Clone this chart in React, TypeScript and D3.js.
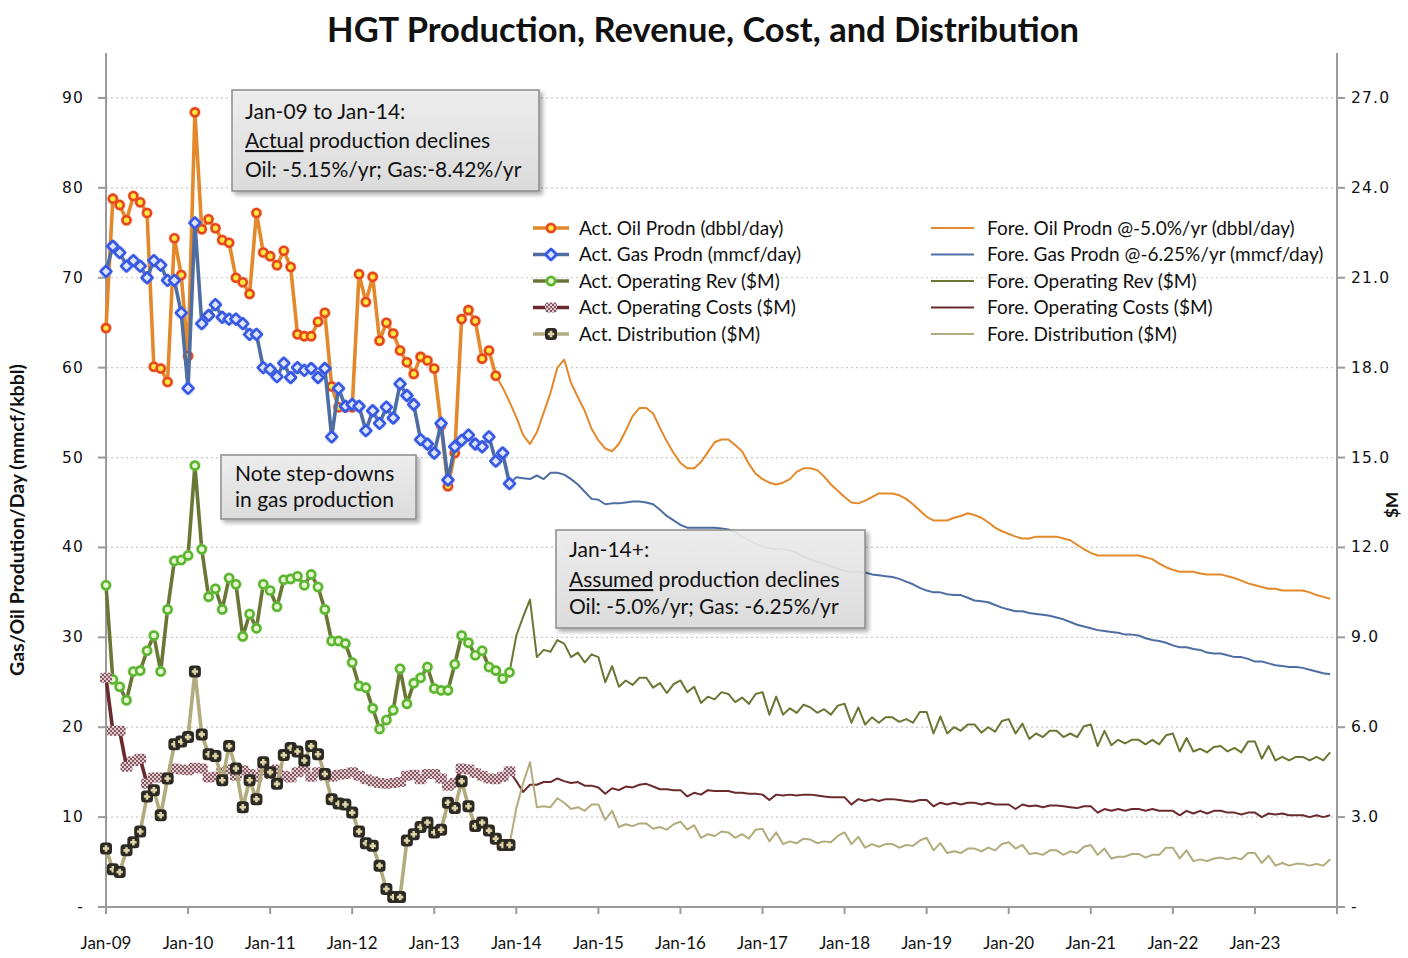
import * as d3 from "d3";

// month index 0 = Jan-09, 180 = Jan-24
const yearLabels = ["Jan-09", "Jan-10", "Jan-11", "Jan-12", "Jan-13", "Jan-14", "Jan-15", "Jan-16", "Jan-17", "Jan-18", "Jan-19", "Jan-20", "Jan-21", "Jan-22", "Jan-23"];
const leftTicks = [0, 10, 20, 30, 40, 50, 60, 70, 80, 90];
const rightTicks = [0, 3, 6, 9, 12, 15, 18, 21, 24, 27];

// actual, monthly from Jan-09
const actOil = [
  64.4, 78.8, 78.1, 76.4, 79.1, 78.4, 77.2, 60.1, 59.9, 58.4,
  74.4, 70.3, 61.3, 88.4, 75.4, 76.5, 75.5, 74.2, 73.9, 70.0,
  69.5, 68.2, 77.2, 72.8, 72.4, 71.4, 73.0, 71.2, 63.7, 63.5,
  63.5, 65.1, 66.1, 57.9, 55.6, 55.6, 55.6, 70.4, 67.3, 70.1,
  63.0, 65.0, 63.8, 61.9, 60.6, 59.3, 61.2, 60.8, 59.9, 53.6,
  46.8, 50.5, 65.4, 66.4, 65.2, 61.0, 61.9, 59.1,
];
const actGas = [
  70.7, 73.5, 72.8, 71.3, 71.9, 71.3, 70.0, 71.9, 71.4, 69.7,
  69.7, 66.1, 57.7, 76.1, 64.9, 65.8, 67.0, 65.6, 65.4, 65.4,
  64.9, 63.7, 63.7, 60.0, 59.8, 59.0, 60.5, 58.9, 60.0, 59.7,
  59.9, 58.9, 59.9, 52.3, 57.7, 55.7, 55.9, 55.7, 53.0, 55.2,
  53.8, 55.6, 54.4, 58.2, 56.9, 55.9, 52.0, 51.5, 50.5, 53.8,
  47.5, 51.2, 51.9, 52.5, 51.5, 51.2, 52.3, 49.6, 50.5, 47.1,
];
// $M
const actRev = [
  10.74, 7.59, 7.35, 6.9, 7.86, 7.89, 8.55, 9.06, 7.86, 9.93,
  11.55, 11.58, 11.73, 14.73, 11.94, 10.35, 10.62, 9.93, 10.98, 10.77,
  9.03, 9.78, 9.3, 10.77, 10.56, 10.02, 10.92, 10.95, 11.04, 10.74,
  11.1, 10.68, 9.93, 8.88, 8.88, 8.79, 8.16, 7.38, 7.32, 6.63,
  5.94, 6.24, 6.57, 7.95, 6.78, 7.47, 7.65, 8.01, 7.29, 7.23,
  7.23, 8.1, 9.06, 8.82, 8.4, 8.55, 8.01, 7.89, 7.62, 7.83,
];
const actCost = [
  7.65, 5.88, 5.88, 4.68, 4.86, 4.95, 4.11, 4.32, 4.32, 4.29,
  4.62, 4.59, 4.56, 4.65, 4.62, 4.32, 4.35, 4.5, 4.59, 4.38,
  4.56, 4.44, 4.35, 4.56, 4.44, 4.59, 4.38, 4.32, 4.5, 4.62,
  4.35, 4.5, 4.38, 4.35, 4.41, 4.44, 4.5, 4.38, 4.26, 4.2,
  4.14, 4.11, 4.14, 4.17, 4.38, 4.41, 4.26, 4.44, 4.44, 4.29,
  4.05, 4.14, 4.62, 4.59, 4.47, 4.38, 4.29, 4.26, 4.35, 4.53,
];
const actDist = [
  1.95, 1.26, 1.17, 1.89, 2.16, 2.52, 3.69, 3.9, 3.06, 4.29,
  5.43, 5.52, 5.67, 7.86, 5.76, 5.1, 5.04, 4.23, 5.37, 4.62,
  3.33, 4.23, 3.6, 4.83, 4.5, 4.11, 5.07, 5.31, 5.19, 4.89,
  5.37, 5.1, 4.44, 3.6, 3.45, 3.42, 3.15, 2.52, 2.13, 2.04,
  1.38, 0.6, 0.33, 0.33, 2.22, 2.43, 2.67, 2.82, 2.49, 2.58,
  3.48, 3.3, 4.2, 3.36, 2.7, 2.82, 2.55, 2.28, 2.07, 2.07,
];

// forecast, oil from Oct-13, others from Dec-13
const foreOilStart = 57;
const foreOil = [
  59.1, 57.8, 56.2,
  54.5, 52.5, 51.5, 52.8, 55.0, 57.2, 60.0, 60.9, 58.3, 56.7,
  55.2, 53.2, 51.9, 51.0, 50.7, 51.5, 53.0, 54.6, 55.5, 55.5,
  54.9, 53.3, 51.8, 50.5, 49.4, 48.8, 48.8, 49.5, 50.6, 51.7,
  52.0, 52.0, 51.4, 50.7, 49.3, 48.2, 47.6, 47.2, 47.0, 47.2,
  47.6, 48.4, 48.8, 48.8, 48.6, 47.9, 47.0, 46.3, 45.6, 45.0,
  44.9, 45.2, 45.6, 46.0, 46.0, 46.0, 45.8, 45.4, 44.8, 44.1,
  43.4, 43.0, 43.0, 43.0, 43.3, 43.5, 43.8, 43.6, 43.3, 42.8,
  42.2, 41.8, 41.5, 41.2, 41.0, 41.0, 41.2, 41.2, 41.2, 41.2,
  41.0, 40.8, 40.3, 39.8, 39.4, 39.1, 39.1, 39.1, 39.1, 39.1,
  39.1, 39.1, 38.9, 38.7, 38.2, 37.8, 37.5, 37.3, 37.3, 37.3,
  37.1, 37.0, 37.0, 37.0, 36.8, 36.6, 36.3, 36.0, 35.8, 35.6,
  35.4, 35.4, 35.2, 35.2, 35.2, 35.2, 35.0, 34.7, 34.5, 34.3,
];
const foreStart = 59;
const foreGas = [
  47.1,
  47.8, 47.7, 47.6, 48.0, 47.6, 48.3, 48.3, 48.1, 47.6, 47.0,
  46.2, 45.4, 45.3, 44.8, 44.9, 44.9, 45.0, 45.1, 45.1, 45.0,
  44.8, 44.2, 43.5, 43.0, 42.5, 42.2, 42.2, 42.2, 42.2, 42.2,
  42.1, 42.0, 41.7, 41.2, 40.8, 40.4, 40.1, 39.9, 39.8, 39.8,
  39.7, 39.4, 39.0, 38.7, 38.4, 38.2, 37.9, 37.6, 37.4, 37.3,
  37.3, 37.2, 37.0, 36.9, 36.8, 36.7, 36.5, 36.2, 35.9, 35.5,
  35.2, 35.0, 35.0, 34.8, 34.7, 34.7, 34.4, 34.1, 34.0, 33.9,
  33.6, 33.3, 33.1, 32.9, 32.9, 32.7, 32.6, 32.5, 32.4, 32.2,
  32.0, 31.7, 31.4, 31.2, 31.0, 30.8, 30.7, 30.6, 30.5, 30.3,
  30.3, 30.2, 29.9, 29.7, 29.6, 29.4, 29.1, 28.9, 28.9, 28.7,
  28.6, 28.3, 28.2, 28.2, 28.0, 27.8, 27.8, 27.6, 27.3, 27.3,
  27.1, 26.9, 26.8, 26.7, 26.7, 26.6, 26.4, 26.2, 26.0, 25.9,
];
const foreRev = [
  7.83,
  9.06, 9.69, 10.26, 8.34, 8.58, 8.52, 8.91, 8.79, 8.34, 8.49,
  8.16, 8.43, 8.34, 7.5, 8.04, 7.35, 7.56, 7.41, 7.65, 7.65,
  7.32, 7.47, 7.14, 7.44, 7.56, 7.17, 7.35, 6.81, 7.02, 6.93,
  7.17, 7.11, 6.84, 6.99, 6.78, 7.11, 7.17, 6.42, 7.02, 6.42,
  6.63, 6.48, 6.75, 6.66, 6.48, 6.6, 6.42, 6.72, 6.78, 6.15,
  6.66, 6.09, 6.33, 6.15, 6.33, 6.33, 6.18, 6.27, 6.15, 6.51,
  6.51, 5.79, 6.36, 5.79, 6.0, 5.88, 6.09, 6.09, 5.82, 6.0,
  5.85, 6.21, 6.27, 5.79, 6.12, 5.61, 5.79, 5.67, 5.88, 5.88,
  5.67, 5.79, 5.67, 6.03, 6.09, 5.37, 5.88, 5.4, 5.58, 5.46,
  5.58, 5.58, 5.43, 5.58, 5.43, 5.73, 5.79, 5.19, 5.64, 5.19,
  5.28, 5.16, 5.34, 5.37, 5.19, 5.31, 5.16, 5.52, 5.52, 4.95,
  5.37, 4.89, 5.01, 4.89, 5.01, 5.01, 4.89, 5.01, 4.89, 5.16,
];
const foreCost = [
  4.53,
  4.2, 3.84, 4.08, 4.08, 4.17, 4.17, 4.29, 4.2, 4.14, 4.17,
  4.05, 4.05, 3.99, 3.78, 3.96, 3.9, 4.02, 3.99, 4.08, 4.11,
  4.02, 3.93, 3.93, 3.9, 3.9, 3.69, 3.81, 3.75, 3.9, 3.87,
  3.87, 3.87, 3.81, 3.81, 3.78, 3.78, 3.75, 3.57, 3.75, 3.72,
  3.75, 3.72, 3.75, 3.75, 3.72, 3.69, 3.66, 3.66, 3.66, 3.42,
  3.6, 3.54, 3.6, 3.54, 3.6, 3.6, 3.57, 3.54, 3.51, 3.57,
  3.57, 3.36, 3.48, 3.42, 3.48, 3.42, 3.48, 3.48, 3.42, 3.48,
  3.42, 3.42, 3.42, 3.27, 3.42, 3.36, 3.39, 3.33, 3.39, 3.39,
  3.36, 3.33, 3.3, 3.36, 3.36, 3.15, 3.27, 3.21, 3.27, 3.21,
  3.27, 3.27, 3.21, 3.27, 3.21, 3.21, 3.21, 3.06, 3.21, 3.12,
  3.21, 3.12, 3.21, 3.21, 3.15, 3.15, 3.09, 3.15, 3.15, 3.0,
  3.12, 3.09, 3.12, 3.06, 3.06, 3.06, 3.0, 3.06, 3.0, 3.06,
];
const foreDist = [
  2.07,
  3.3, 4.14, 4.83, 3.33, 3.36, 3.33, 3.63, 3.48, 3.27, 3.33,
  3.21, 3.42, 3.42, 2.91, 3.21, 2.67, 2.76, 2.7, 2.79, 2.79,
  2.61, 2.67, 2.58, 2.76, 2.85, 2.58, 2.73, 2.31, 2.43, 2.37,
  2.52, 2.49, 2.31, 2.43, 2.28, 2.58, 2.61, 2.19, 2.49, 2.1,
  2.19, 2.13, 2.28, 2.25, 2.13, 2.19, 2.16, 2.37, 2.49, 2.1,
  2.34, 1.98, 2.1, 2.01, 2.1, 2.1, 1.98, 2.07, 2.04, 2.22,
  2.31, 1.89, 2.13, 1.8, 1.86, 1.8, 1.95, 1.95, 1.86, 1.98,
  1.89, 2.1, 2.16, 1.95, 2.07, 1.77, 1.8, 1.74, 1.89, 1.89,
  1.74, 1.86, 1.8, 2.01, 2.07, 1.74, 1.95, 1.62, 1.68, 1.68,
  1.77, 1.77, 1.65, 1.74, 1.74, 1.98, 1.98, 1.62, 1.89, 1.53,
  1.59, 1.53, 1.62, 1.65, 1.59, 1.65, 1.59, 1.8, 1.8, 1.47,
  1.71, 1.38, 1.47, 1.38, 1.44, 1.44, 1.38, 1.44, 1.38, 1.59,
];

const actLegend = ["Act. Oil Prodn (dbbl/day)", "Act. Gas Prodn (mmcf/day)", "Act. Operating Rev ($M)", "Act. Operating Costs ($M)", "Act. Distribution ($M)"];
const foreLegend = ["Fore. Oil Prodn @-5.0%/yr (dbbl/day)", "Fore. Gas Prodn @-6.25%/yr (mmcf/day)", "Fore. Operating Rev ($M)", "Fore. Operating Costs ($M)", "Fore. Distribution ($M)"];

const C = {
  oil: "#E3892B",
  gas: "#4E6EA3",
  rev: "#687834",
  cost: "#6B2A2C",
  dist: "#B2AB7D",
  axis: "#9a9a9a",
};

const x = d3.scaleLinear().domain([0, 180]).range([106, 1337]);
const yL = d3.scaleLinear().domain([0, 95]).range([907, 53]);
const yR = d3.scaleLinear().domain([0, 28.5]).range([907, 53]);

const pathFor = (vals: number[], start: number, y: d3.ScaleLinear<number, number>) =>
  d3.line<number>().x((_, i) => x(start + i)).y((d) => y(d))(vals) || "";

type MarkerKind = "oil" | "gas" | "rev" | "cost" | "dist";

const Marker = ({ kind, cx, cy }: { kind: MarkerKind; cx: number; cy: number }) => {
  if (kind === "oil")
    return (
      <g>
        <circle cx={cx} cy={cy} r={6} fill="#F08A5A" opacity={0.35} />
        <circle cx={cx} cy={cy} r={4} fill="#FFE640" stroke="#E5461C" strokeWidth={2.6} />
      </g>
    );
  if (kind === "gas")
    return (
      <g>
        <circle cx={cx} cy={cy} r={6.5} fill="#7D96F0" opacity={0.35} />
        <path d={`M${cx},${cy - 5.5}L${cx + 5.5},${cy}L${cx},${cy + 5.5}L${cx - 5.5},${cy}Z`} fill="#DCE4FF" stroke="#3657E3" strokeWidth={2.6} strokeLinejoin="round" />
      </g>
    );
  if (kind === "rev")
    return (
      <g>
        <circle cx={cx} cy={cy} r={6} fill="#9ED77A" opacity={0.4} />
        <circle cx={cx} cy={cy} r={4} fill="#E6F7CF" stroke="#5BB430" strokeWidth={2.6} />
      </g>
    );
  if (kind === "cost")
    return <rect x={cx - 6} y={cy - 5} width={12} height={10} rx={2} fill="url(#checker)" />;
  return (
    <g>
      <rect x={cx - 6} y={cy - 6} width={12} height={12} rx={3.5} fill="#2C2A22" />
      <path d={`M${cx - 3.2},${cy}H${cx + 3.2}M${cx},${cy - 3.2}V${cy + 3.2}`} stroke="#DCD4A6" strokeWidth={2.6} />
    </g>
  );
};

const actualSeries: { kind: MarkerKind; vals: number[]; y: d3.ScaleLinear<number, number>; color: string }[] = [
  { kind: "oil", vals: actOil, y: yL, color: C.oil },
  { kind: "gas", vals: actGas, y: yL, color: C.gas },
  { kind: "rev", vals: actRev, y: yR, color: C.rev },
  { kind: "cost", vals: actCost, y: yR, color: C.cost },
  { kind: "dist", vals: actDist, y: yR, color: C.dist },
];
const foreSeries = [
  { vals: foreOil, start: foreOilStart, y: yL, color: C.oil },
  { vals: foreGas, start: foreStart, y: yL, color: C.gas },
  { vals: foreRev, start: foreStart, y: yR, color: C.rev },
  { vals: foreCost, start: foreStart, y: yR, color: C.cost },
  { vals: foreDist, start: foreStart, y: yR, color: C.dist },
];

const boxFont = "Lato, 'Open Sans', sans-serif";

const Box = ({ bx, by, bw, bh, children }: { bx: number; by: number; bw: number; bh: number; children: any }) => (
  <g>
    <rect x={bx} y={by} width={bw} height={bh} fill="url(#boxGrad)" fillOpacity={0.9} stroke="#8c8c8c" strokeWidth={1.5} filter="url(#shadow)" />
    <g fontFamily={boxFont} fontSize={21} fill="#111">{children}</g>
  </g>
);

const App = () => {
  const tickFont = "'DejaVu Sans', Verdana, sans-serif";
  const xLabelFont = "Lato, sans-serif";
  return (
    <svg width={1408} height={958} style={{ position: "absolute", left: 0, top: 0, background: "#fff" }}>
      <defs>
        <pattern id="checker" width={4} height={4} patternUnits="userSpaceOnUse">
          <rect width={4} height={4} fill="#E9C9CF" />
          <rect width={2} height={2} fill="#7E5A62" />
          <rect x={2} y={2} width={2} height={2} fill="#7E5A62" />
        </pattern>
        <linearGradient id="boxGrad" x1="0" y1="0" x2="0" y2="1">
          <stop offset="0" stopColor="#efefef" />
          <stop offset="1" stopColor="#dcdcdc" />
        </linearGradient>
        <filter id="shadow" x="-10%" y="-10%" width="130%" height="140%">
          <feDropShadow dx={3} dy={3} stdDeviation={2} floodColor="#000" floodOpacity={0.35} />
        </filter>
      </defs>

      {/* title */}
      <text x={703} y={42} textAnchor="middle" fontFamily="Lato, sans-serif" fontWeight="bold" fontSize={34.5} fill="#111">
        HGT Production, Revenue, Cost, and Distribution
      </text>

      {/* gridlines */}
      {leftTicks.filter((t) => t > 0).map((t) => (
        <line key={t} x1={x(0)} x2={x(180)} y1={yL(t)} y2={yL(t)} stroke="#c8c8c8" strokeWidth={1.2} strokeDasharray="2,3" />
      ))}

      {/* axes */}
      <line x1={x(0)} x2={x(0)} y1={yL(95)} y2={yL(0)} stroke={C.axis} strokeWidth={2} />
      <line x1={x(180)} x2={x(180)} y1={yL(95)} y2={yL(0)} stroke={C.axis} strokeWidth={2} />
      <line x1={x(0) - 8} x2={x(180) + 8} y1={yL(0)} y2={yL(0)} stroke={C.axis} strokeWidth={2} />
      {leftTicks.map((t) => (
        <g key={t}>
          <line x1={x(0) - 8} x2={x(0)} y1={yL(t)} y2={yL(t)} stroke={C.axis} strokeWidth={2} />
          <text x={84} y={yL(t) + 5} textAnchor="end" fontFamily={tickFont} fontSize={15.5} letterSpacing={1.2} fill="#111">
            {t === 0 ? "-" : t}
          </text>
        </g>
      ))}
      {rightTicks.map((t) => (
        <g key={t}>
          <line x1={x(180)} x2={x(180) + 8} y1={yR(t)} y2={yR(t)} stroke={C.axis} strokeWidth={2} />
          <text x={1351} y={yR(t) + 5} fontFamily={tickFont} fontSize={15.5} letterSpacing={1.2} fill="#111">
            {t === 0 ? "-" : t.toFixed(1)}
          </text>
        </g>
      ))}
      {yearLabels.map((lab, i) => (
        <g key={lab}>
          <line x1={x(i * 12)} x2={x(i * 12)} y1={yL(0)} y2={yL(0) + 7} stroke={C.axis} strokeWidth={2} />
          <text x={x(i * 12)} y={949} textAnchor="middle" fontFamily={xLabelFont} fontSize={17} fill="#111">
            {lab}
          </text>
        </g>
      ))}
      <line x1={x(180)} x2={x(180)} y1={yL(0)} y2={yL(0) + 7} stroke={C.axis} strokeWidth={2} />

      {/* axis titles */}
      <text transform="translate(24,520) rotate(-90)" textAnchor="middle" fontFamily="Lato, sans-serif" fontWeight="bold" fontSize={19.5} fill="#111">
        Gas/Oil Prodution/Day (mmcf/kbbl)
      </text>
      <text transform="translate(1398,505) rotate(-90)" textAnchor="middle" fontFamily="Lato, sans-serif" fontWeight="bold" fontSize={17} fill="#111">
        $M
      </text>

      {/* forecast lines */}
      {foreSeries.map((s, k) => (
        <path key={k} d={pathFor(s.vals, s.start, s.y)} fill="none" stroke={s.color} strokeWidth={2} strokeLinejoin="round" />
      ))}

      {/* actual lines + markers */}
      {actualSeries.map((s) => (
        <g key={s.kind}>
          <path d={pathFor(s.vals, 0, s.y)} fill="none" stroke={s.color} strokeWidth={3.6} strokeLinejoin="round" />
          {s.vals.map((v, i) => (
            <Marker key={i} kind={s.kind} cx={x(i)} cy={s.y(v)} />
          ))}
        </g>
      ))}

      {/* legend */}
      {actualSeries.map((s, i) => {
        const ly = 228 + i * 26.5;
        const f = foreSeries[i];
        return (
          <g key={s.kind}>
            <line x1={533} x2={569} y1={ly} y2={ly} stroke={s.color} strokeWidth={3.6} />
            <Marker kind={s.kind} cx={551} cy={ly} />
            <text x={579} y={ly + 6.5} fontFamily={boxFont} fontSize={19} fill="#111">{actLegend[i]}</text>
            <line x1={931} x2={974} y1={ly} y2={ly} stroke={f.color} strokeWidth={2} />
            <text x={987} y={ly + 6.5} fontFamily={boxFont} fontSize={19} fill="#111">{foreLegend[i]}</text>
          </g>
        );
      })}

      {/* annotations */}
      <Box bx={232} by={90} bw={307} bh={101}>
        <text x={245} y={119}>Jan-09 to Jan-14:</text>
        <text x={245} y={148}><tspan textDecoration="underline">Actual</tspan> production declines</text>
        <text x={245} y={177}>Oil: -5.15%/yr; Gas:-8.42%/yr</text>
      </Box>
      <Box bx={221} by={455} bw={195} bh={64}>
        <text x={235} y={481}>Note step-downs</text>
        <text x={235} y={507}>in gas production</text>
      </Box>
      <Box bx={556} by={530} bw={309} bh={98}>
        <text x={569} y={557}>Jan-14+:</text>
        <text x={569} y={587}><tspan textDecoration="underline">Assumed</tspan> production declines</text>
        <text x={569} y={614}>Oil: -5.0%/yr; Gas: -6.25%/yr</text>
      </Box>
    </svg>
  );
};

export default App;
